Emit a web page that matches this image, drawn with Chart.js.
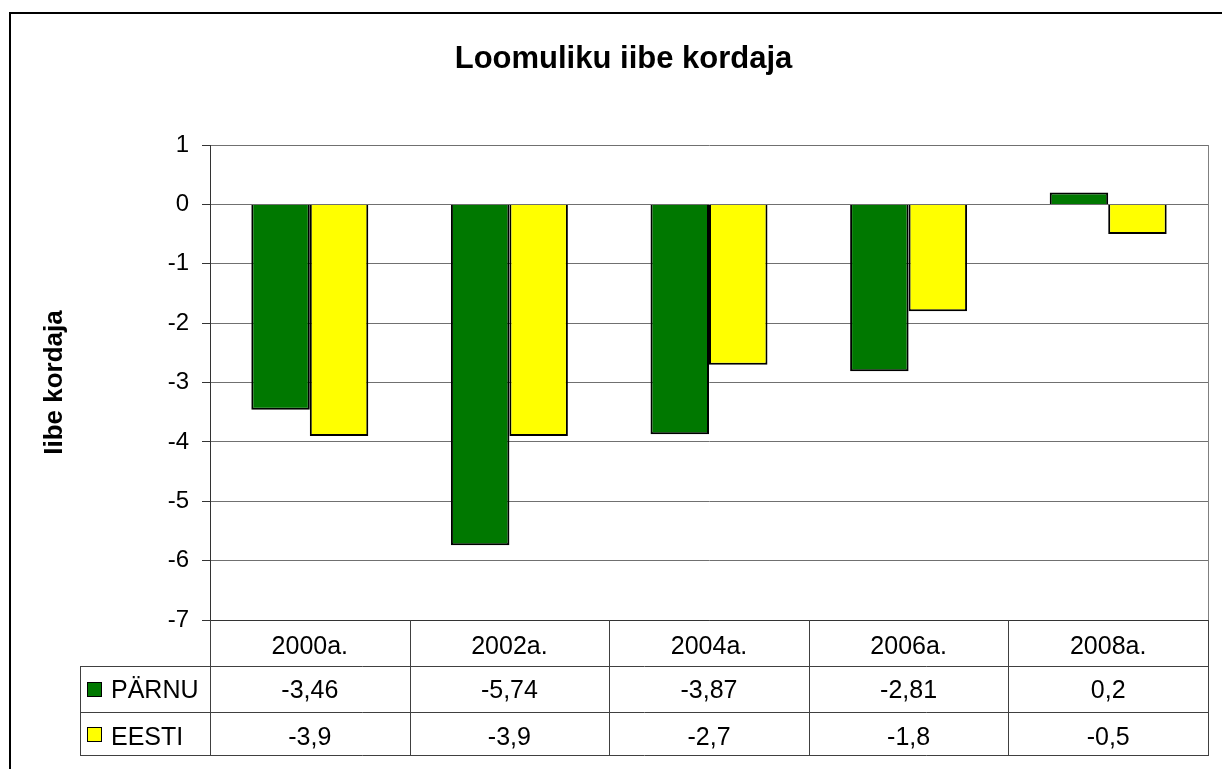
<!DOCTYPE html>
<html>
<head>
<meta charset="utf-8">
<script src="https://cdn.jsdelivr.net/npm/chart.js@4"></script>
<style>
  body { margin: 0; background: #fff; }
  #wrap { width: 1222px; height: 769px; }
</style>
</head>
<body>
<div id="wrap"><canvas id="myChart" width="1222" height="769"></canvas></div>
<script>
const categories = ["2000a.", "2002a.", "2004a.", "2006a.", "2008a."];
const parnu = [-3.46, -5.74, -3.87, -2.81, 0.2];
const eesti = [-3.9, -3.9, -2.7, -1.8, -0.5];
const seriesNames = ["PÄRNU", "EESTI"];
const seriesColors = ["#007800", "#ffff00"];
const yMin = -7, yMax = 1;

const FONT = "'Liberation Sans', Arial, sans-serif";
Chart.defaults.font.family = FONT;
Chart.defaults.color = "#000";

const fmt = v => String(v).replace(".", ",");

// data table under the plot + outer frame
const dataTable = {
  id: "dataTable",
  afterDraw(chart) {
    const ctx = chart.ctx, area = chart.chartArea, xs = chart.scales.x;
    const colW = (area.right - area.left) / categories.length;
    const rows = [area.bottom, 666, 712, 755];
    ctx.save();
    // frame
    ctx.fillStyle = "#000";
    ctx.fillRect(9, 12, 2, 800);
    ctx.fillRect(9, 12, 1300, 2);
    // plot right border
    ctx.strokeStyle = "#808080";
    ctx.lineWidth = 1;
    ctx.beginPath();
    ctx.moveTo(area.right + 0.5, area.top);
    ctx.lineTo(area.right + 0.5, area.bottom);
    ctx.stroke();
    // table grid
    ctx.strokeStyle = "#404040";
    ctx.beginPath();
    for (let r = 1; r < rows.length; r++) {
      ctx.moveTo(80, rows[r] + 0.5);
      ctx.lineTo(area.right + 1, rows[r] + 0.5);
    }
    for (let i = 0; i <= categories.length; i++) {
      const x = Math.round(area.left + i * colW) + 0.5;
      ctx.moveTo(x, rows[0]);
      ctx.lineTo(x, rows[3] + 1);
    }
    ctx.moveTo(80.5, rows[1]);
    ctx.lineTo(80.5, rows[3] + 1);
    ctx.stroke();
    // rows: legend key, name, values
    const series = [parnu, eesti];
    const baselines = [698, 745];
    ctx.font = "25px " + FONT;
    ctx.textBaseline = "alphabetic";
    series.forEach((vals, s) => {
      const mid = (rows[s + 1] + rows[s + 2]) / 2;
      ctx.fillStyle = seriesColors[s];
      ctx.fillRect(87, Math.round(mid - 7), 15, 15);
      ctx.strokeStyle = "#000";
      ctx.strokeRect(87.5, Math.round(mid - 7) + 0.5, 14, 14);
      ctx.fillStyle = "#000";
      ctx.textAlign = "left";
      ctx.fillText(seriesNames[s], 111, baselines[s]);
      ctx.textAlign = "center";
      vals.forEach((v, i) => {
        ctx.fillText(fmt(v), xs.getPixelForValue(i), baselines[s]);
      });
    });
    ctx.restore();
  }
};

const data = {
  labels: categories,
  datasets: [
    {
      label: seriesNames[0],
      data: parnu,
      backgroundColor: seriesColors[0],
      borderColor: "#000",
      borderWidth: 2,
      barPercentage: 1,
      categoryPercentage: 0.586,
    },
    {
      label: seriesNames[1],
      data: eesti,
      backgroundColor: seriesColors[1],
      borderColor: "#000",
      borderWidth: 2,
      barPercentage: 1,
      categoryPercentage: 0.586,
    },
  ],
};

const config = {
  type: "bar",
  data: data,
  options: {
    responsive: false,
    animation: false,
    layout: { padding: { left: 39, right: 14, top: 0, bottom: 0 } },
    plugins: {
      legend: { display: false },
      tooltip: { enabled: false },
      title: {
        display: true,
        text: "Loomuliku iibe kordaja",
        font: { size: 31, weight: "bold" },
        color: "#000",
        padding: { top: 41, bottom: 66.8 },
      },
    },
    scales: {
      y: {
        min: yMin,
        max: yMax,
        ticks: { stepSize: 1, font: { size: 24 }, padding: 13, color: "#000" },
        grid: { color: "#707070", tickColor: "#333", tickLength: 8 },
        border: { color: "#333", width: 1 },
        title: {
          display: true,
          text: "Iibe kordaja",
          font: { size: 26, weight: "bold" },
          color: "#000",
          padding: 0,
        },
        afterFit(scale) { scale.width = 171; },
      },
      x: {
        ticks: { font: { size: 25 }, padding: 4, color: "#000", autoSkip: false, maxRotation: 0 },
        grid: { display: false },
        border: { color: "#333", width: 1 },
        afterFit(scale) { scale.height = 149; },
      },
    },
  },
  plugins: [dataTable],
};

const myChart = new Chart(document.getElementById("myChart"), config);
</script>
</body>
</html>
